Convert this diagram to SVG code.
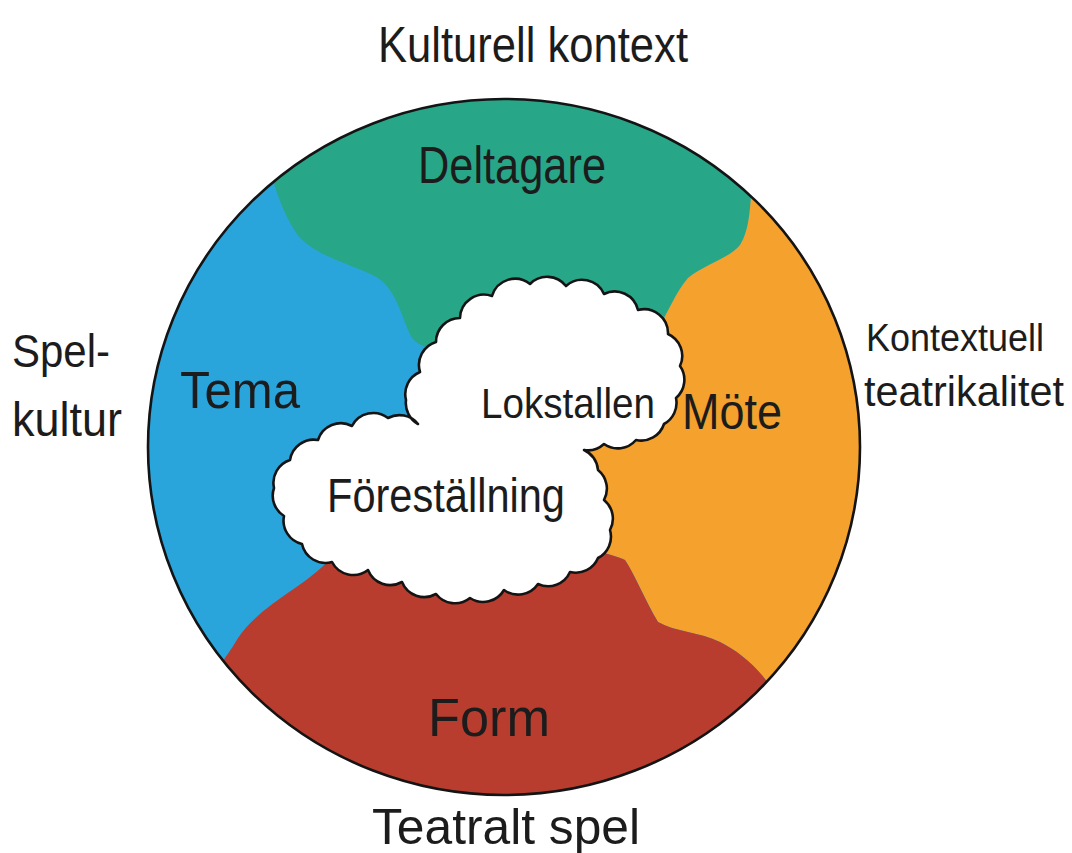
<svg xmlns="http://www.w3.org/2000/svg" width="1072" height="853" viewBox="0 0 1072 853">
  <style>
    .lbl { font-family: "Liberation Sans", Arial, sans-serif; fill: #1c1c1c; }
    .ink { fill: none; stroke: #141414; stroke-width: 2.6; stroke-linejoin: round; }
  </style>
  <defs>
    <clipPath id="disc">
      <ellipse cx="504" cy="447" rx="356" ry="348"/>
    </clipPath>
  </defs>
  <rect width="1072" height="853" fill="#ffffff"/>

  <g id="wheel">
    <g clip-path="url(#disc)">
      <ellipse id="tema-region" cx="504" cy="447" rx="356" ry="348" fill="#29a5dc"/>
      <path id="deltagare-region" fill="#27a788" d="M 240,40 L 262,140 C 272,180 282,215 300,238 C 320,258 355,265 378,278 C 398,292 402,320 412,338 C 420,348 440,352 455,355 L 520,440 L 655,335 C 668,312 676,292 688,278 C 705,264 730,258 740,245 C 750,230 750,205 752,185 L 770,40 Z"/>
      <path id="mote-region" fill="#f4a12d" d="M 770,40 L 752,185 C 750,205 750,230 740,245 C 730,258 705,264 688,278 C 676,292 668,312 655,335 L 520,440 L 585,545 C 600,553 615,555 625,560 C 635,575 645,600 658,622 C 675,632 700,632 720,642 C 740,652 760,668 780,700 L 900,760 L 900,40 Z"/>
      <path id="form-region" fill="#b83d2e" d="M 900,760 L 780,700 C 760,668 740,652 720,642 C 700,632 675,632 658,622 C 645,600 635,575 625,560 C 615,555 600,553 585,545 L 520,440 L 340,550 C 325,565 310,578 295,588 C 270,605 250,620 238,638 C 228,655 220,665 200,690 L 100,760 L 100,853 L 900,853 Z"/>
    </g>
    <ellipse class="ink" cx="504" cy="447" rx="356" ry="348"/>
  </g>

  <g id="cloud">
    <path fill="#ffffff" stroke="#141414" stroke-width="2.6" stroke-linejoin="round" d="M 418,424 A 24,24 0 0 1 406,400 A 24,24 0 0 1 420,372 A 24,24 0 0 1 436,342 A 24,24 0 0 1 460,318 A 24,24 0 0 1 492,296 A 24,24 0 0 1 530,284 A 24,24 0 0 1 566,286 A 24,24 0 0 1 604,294 A 24,24 0 0 1 638,310 A 24,24 0 0 1 668,334 A 24,24 0 0 1 680,366 A 24,24 0 0 1 676,398 A 24,24 0 0 1 664,424 A 24,24 0 0 1 636,440 A 24,24 0 0 1 604,444 A 24,24 0 0 1 584,450 A 24,24 0 0 1 598,470 A 24,24 0 0 1 604,500 A 24,24 0 0 1 610,530 A 24,24 0 0 1 598,558 A 24,24 0 0 1 570,572 A 24,24 0 0 1 538,584 A 24,24 0 0 1 504,590 A 24,24 0 0 1 470,598 A 24,24 0 0 1 436,594 A 24,24 0 0 1 402,582 A 24,24 0 0 1 368,570 A 24,24 0 0 1 332,562 A 24,24 0 0 1 302,544 A 24,24 0 0 1 284,516 A 24,24 0 0 1 274,488 A 24,24 0 0 1 290,460 A 24,24 0 0 1 318,440 A 24,24 0 0 1 352,426 A 24,24 0 0 1 388,418 A 24,24 0 0 1 418,424 Z"/>
    <text class="lbl" x="481" y="418" font-size="42" textLength="174" lengthAdjust="spacingAndGlyphs">Lokstallen</text>
    <text class="lbl" x="327" y="512" font-size="48" textLength="238" lengthAdjust="spacingAndGlyphs">Föreställning</text>
  </g>

  <g id="label-deltagare">
    <text class="lbl" x="418" y="183" font-size="52" textLength="188" lengthAdjust="spacingAndGlyphs">Deltagare</text>
  </g>
  <g id="label-tema">
    <text class="lbl" x="180" y="408" font-size="52" textLength="120" lengthAdjust="spacingAndGlyphs">Tema</text>
  </g>
  <g id="label-mote">
    <text class="lbl" x="682" y="429" font-size="50" textLength="100" lengthAdjust="spacingAndGlyphs">Möte</text>
  </g>
  <g id="label-form">
    <text class="lbl" x="428" y="736" font-size="54" textLength="122" lengthAdjust="spacingAndGlyphs">Form</text>
  </g>

  <g id="label-kulturell-kontext">
    <text class="lbl" x="378" y="62" font-size="50" textLength="310" lengthAdjust="spacingAndGlyphs">Kulturell kontext</text>
  </g>
  <g id="label-spelkultur">
    <text class="lbl" x="12" y="367" font-size="46" textLength="98" lengthAdjust="spacingAndGlyphs">Spel-</text>
    <text class="lbl" x="12" y="436" font-size="48" textLength="110" lengthAdjust="spacingAndGlyphs">kultur</text>
  </g>
  <g id="label-kontextuell-teatrikalitet">
    <text class="lbl" x="866" y="351" font-size="38" textLength="178" lengthAdjust="spacingAndGlyphs">Kontextuell</text>
    <text class="lbl" x="864" y="406" font-size="42" textLength="200" lengthAdjust="spacingAndGlyphs">teatrikalitet</text>
  </g>
  <g id="label-teatralt-spel">
    <text class="lbl" x="372" y="844" font-size="50" textLength="268" lengthAdjust="spacingAndGlyphs">Teatralt spel</text>
  </g>
</svg>
